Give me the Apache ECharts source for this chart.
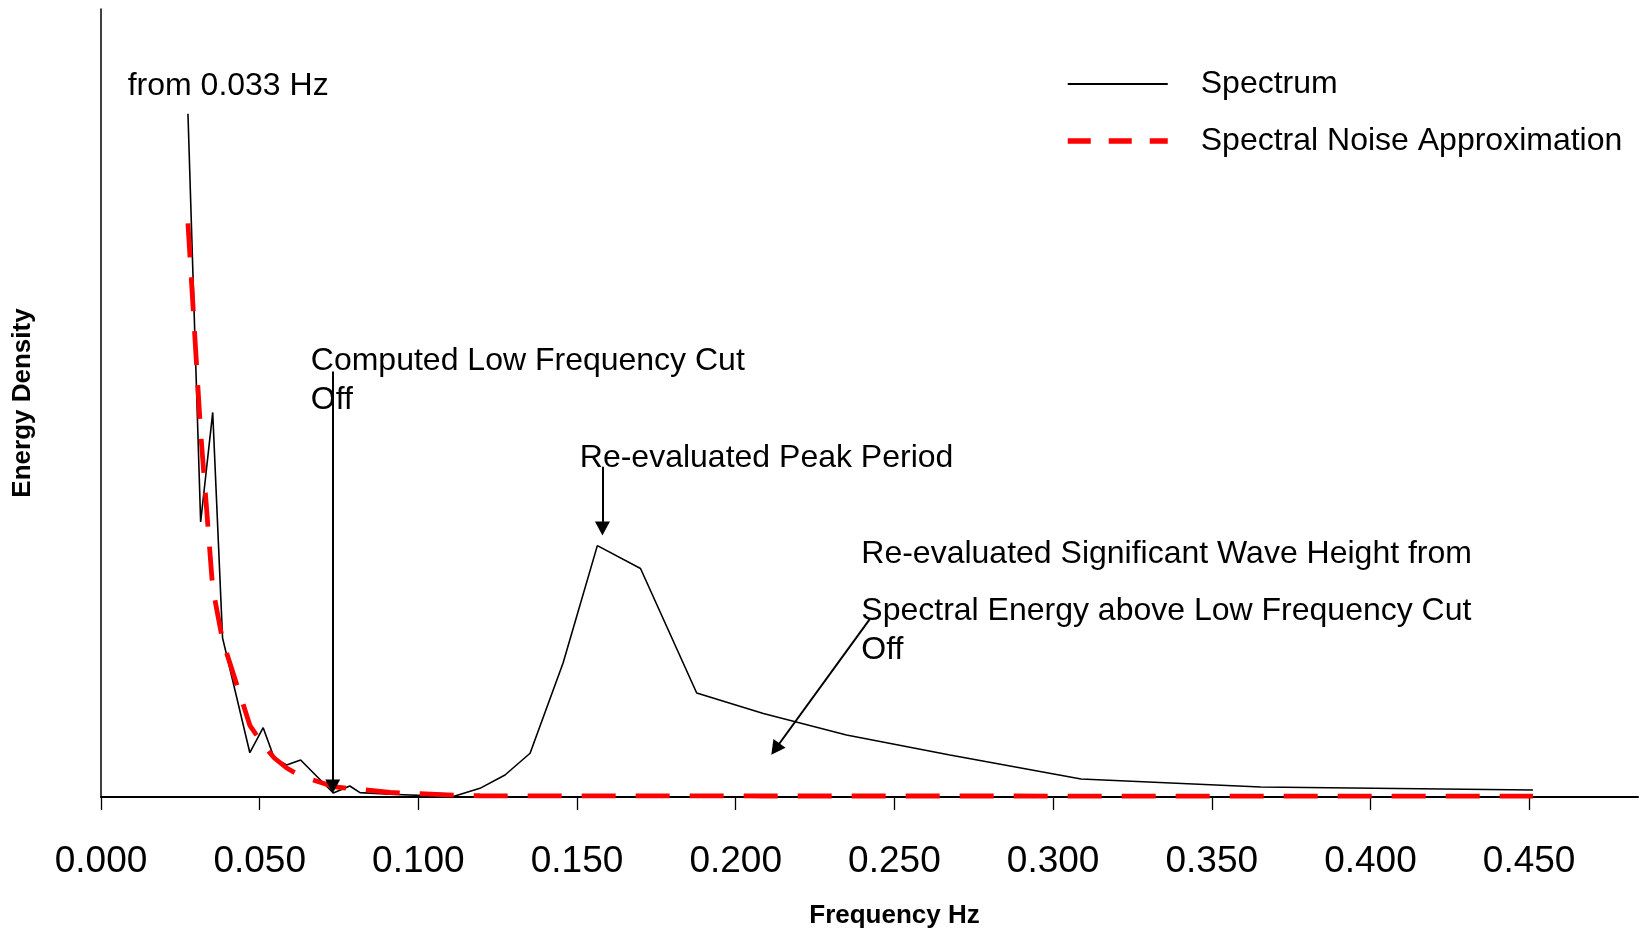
<!DOCTYPE html>
<html><head><meta charset="utf-8">
<script src="https://cdn.jsdelivr.net/npm/echarts@6/dist/echarts.min.js"></script>
<style>html,body{margin:0;padding:0;background:#fff}#c{width:1641px;height:930px}</style>
</head><body><div id="c"></div>
<script>
// Frequency (Hz) of each spectral estimate
const frequencies = [0.0274, 0.0314, 0.0352, 0.0383, 0.0469, 0.0511, 0.0546, 0.0585, 0.0629, 0.0732,
  0.0784, 0.0816, 0.0911, 0.1110, 0.1194, 0.1273, 0.1352, 0.1456, 0.1564, 0.1700,
  0.1877, 0.2087, 0.2349, 0.2675, 0.3088, 0.3654, 0.4512];
// Energy density (arbitrary units, axis unlabeled)
const spectrum = [86.7, 34.9, 48.8, 20.2, 5.62, 8.79, 4.91, 4.06, 4.70, 0.5,
  1.40, 0.55, 0.34, 0.05, 1.10, 2.79, 5.55, 17.0, 31.9, 29.0,
  13.2, 10.6, 7.87, 5.33, 2.28, 1.27, 0.89];
const noiseApprox = [72.8, 46.3, 26.5, 19.9, 9.1, 6.6, 4.95, 3.68, 2.66, 1.33,
  1.08, 0.98, 0.57, 0.25, 0.16, 0.15, 0.15, 0.15, 0.14, 0.14,
  0.14, 0.13, 0.13, 0.13, 0.12, 0.12, 0.12];
const xTickValues = [0, 0.05, 0.1, 0.15, 0.2, 0.25, 0.3, 0.35, 0.4, 0.45];
const xTickLabels = ['0.000', '0.050', '0.100', '0.150', '0.200', '0.250', '0.300', '0.350', '0.400', '0.450'];
const seriesNames = ['Spectrum', 'Spectral Noise Approximation'];
// annotation arrows in data coordinates [freq, density]
const arrowFrom = [[0.0730, 54.0], [0.1580, 41.9], [0.2423, 22.6]];
const arrowTo = [[0.0730, 1.33], [0.1580, 34.07], [0.2125, 6.09]];

const FONT = "'Liberation Sans', Arial, sans-serif";
const chart = echarts.init(document.getElementById('c'), null, {renderer: 'canvas'});

function txt(text, x, y) {
  return {type: 'text', x: x, y: y, z: 100,
    style: {text: text, fontSize: 32, fontFamily: FONT, fill: '#000', verticalAlign: 'middle', align: 'left', lineHeight: 38.7}};
}

const option = {
  animation: false,
  backgroundColor: '#fff',
  grid: {left: 101, right: 3, top: 9, bottom: 133, containLabel: false, outerBoundsMode: 'none'},
  legend: {
    orient: 'vertical', left: 1060, top: 63, itemWidth: 100, itemHeight: 32, itemGap: 25,
    itemStyle: {opacity: 0},
    textStyle: {fontSize: 32, fontFamily: FONT, color: '#000', padding: [4, 0, 0, 28]},
    data: [
      {name: seriesNames[0], lineStyle: {width: 1.8, color: '#000'}},
      {name: seriesNames[1], lineStyle: {type: [23, 18], width: 5.5, color: '#ff0000'}}
    ],
    selectedMode: false
  },
  xAxis: {
    type: 'value', min: 0, max: 0.4843,
    name: 'Frequency Hz', nameLocation: 'middle', nameGap: 105.5,
    nameTextStyle: {fontSize: 26, fontWeight: 'bold', fontFamily: FONT, color: '#000', padding: [0, 0, 0, 50]},
    axisLine: {show: true, onZero: false, lineStyle: {color: '#000', width: 2}},
    axisTick: {show: true, length: 13, customValues: xTickValues, lineStyle: {color: '#000', width: 1.3}},
    axisLabel: {show: true, margin: 46, fontSize: 37, fontFamily: FONT, color: '#000', customValues: xTickValues,
      formatter: function (v) {
        const i = xTickValues.findIndex(t => Math.abs(t - v) < 1e-9);
        return i >= 0 ? xTickLabels[i] : '';
      }},
    splitLine: {show: false}
  },
  yAxis: {
    type: 'value', min: 0, max: 100,
    name: 'Energy Density', nameLocation: 'middle', nameGap: 65,
    nameTextStyle: {fontSize: 26, fontWeight: 'bold', fontFamily: FONT, color: '#000'},
    axisLine: {show: true, onZero: false, lineStyle: {color: '#000', width: 1.5}},
    axisTick: {show: false}, axisLabel: {show: false}, splitLine: {show: false}
  },
  series: [
    {
      name: seriesNames[0], type: 'line', symbol: 'none', silent: true, z: 3,
      data: frequencies.map((f, i) => [f, spectrum[i]]),
      lineStyle: {color: '#000', width: 1.6},
      itemStyle: {color: '#000'},
      markLine: {
        silent: true, symbol: ['none', 'triangle'], symbolSize: [15, 14],
        label: {show: false},
        lineStyle: {color: '#000', width: 2, type: 'solid'},
        emphasis: {disabled: true},
        data: arrowFrom.map((a, i) => [{coord: a}, {coord: arrowTo[i]}])
      }
    },
    {
      name: seriesNames[1], type: 'line', symbol: 'none', silent: true, z: 4,
      data: frequencies.map((f, i) => [f, noiseApprox[i]]),
      lineStyle: {color: '#ff0000', width: 4.8, type: [34, 20], cap: 'butt'},
      itemStyle: {color: '#ff0000'}
    }
  ],
  graphic: [
    txt('from 0.033 Hz', 127.7, 85.8),
    txt('Computed Low Frequency Cut\nOff', 310.8, 380.6),
    txt('Re-evaluated Peak Period', 579.8, 458.4),
    txt('Re-evaluated Significant Wave Height from', 861.3, 553.7),
    txt('Spectral Energy above Low Frequency Cut\nOff', 861.3, 630.5)
  ]
};
chart.setOption(option);
</script></body></html>
